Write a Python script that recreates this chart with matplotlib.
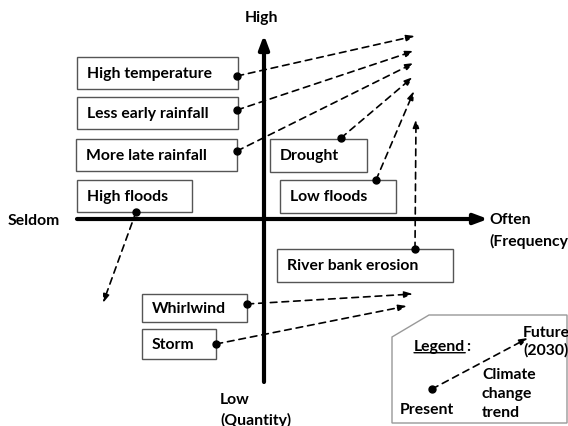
import matplotlib.pyplot as plt
from matplotlib.patches import Rectangle, Polygon

plt.rcParams['font.family'] = ['Lato', 'DejaVu Sans']

# factors shown as boxes
labels = ["High temperature", "Less early rainfall", "More late rainfall", "High floods",
          "Drought", "Low floods", "River bank erosion", "Whirlwind", "Storm"]
# box extents (x0, y0, x1, y1) in picture pixels, y down
boxes = [(77, 58, 238, 90), (77, 98, 238, 130), (76, 140, 237, 172), (77, 181, 192, 213),
         (270, 140, 367, 173), (280, 181, 396, 214), (277, 250, 453, 283),
         (142, 295, 247, 323), (142, 330, 216, 360)]
# present -> future trend
start_x = [237, 237, 237, 136, 341, 376, 415, 247, 216]
start_y = [77, 111, 152, 213, 139, 181, 250, 305, 345]
end_x = [415, 414, 414, 103, 413, 414, 416, 413, 407]
end_y = [37, 52, 64, 304, 78, 92, 120, 295, 307]

fig = plt.figure(figsize=(5.68, 4.27), dpi=100)
ax = fig.add_axes([0, 0, 1, 1])
ax.set_xlim(0, 568)
ax.set_ylim(427, 0)
ax.axis('off')

fs = 11.3
arrow_style = "-|>,head_length=0.5,head_width=0.18"

# axes of the diagram
ax.annotate("", xy=(264, 36), xytext=(264, 383),
            arrowprops=dict(arrowstyle="-|>,head_length=0.8,head_width=0.3", lw=3, color="black",
                            shrinkA=0, shrinkB=0))
ax.annotate("", xy=(488, 220), xytext=(77, 220),
            arrowprops=dict(arrowstyle="-|>,head_length=0.8,head_width=0.3", lw=3, color="black",
                            shrinkA=0, shrinkB=0))
ax.text(262, 18, "High", fontsize=fs, ha="center", va="center", fontweight="bold")
ax.text(8, 221, "Seldom", fontsize=fs, ha="left", va="center", fontweight="bold")
ax.text(489, 220, "Often", fontsize=fs, ha="left", va="center", fontweight="bold")
ax.text(489, 241, "(Frequency)", fontsize=fs, ha="left", va="center", fontweight="bold")
ax.text(220, 400, "Low", fontsize=fs, ha="left", va="center", fontweight="bold")
ax.text(220, 420, "(Quantity)", fontsize=fs, ha="left", va="center", fontweight="bold")

for lab, (x0, y0, x1, y1) in zip(labels, boxes):
    ax.add_patch(Rectangle((x0, y0), x1 - x0, y1 - y0, fill=False, ec="#555555", lw=1))
    ax.text(x0 + 10, (y0 + y1) / 2, lab, fontsize=fs, ha="left", va="center", fontweight="bold")

for sx, sy, ex, ey in zip(start_x, start_y, end_x, end_y):
    ax.annotate("", xy=(ex, ey), xytext=(sx, sy),
                arrowprops=dict(arrowstyle=arrow_style, lw=1.2,
                                ls=(0, (4, 3)), color="black", shrinkA=0, shrinkB=0))
    ax.plot(sx, sy, "o", color="black", ms=5)

# legend panel
ax.add_patch(Polygon([(429, 316), (567, 316), (567, 424), (392, 424), (392, 338)],
                     closed=True, fill=False, ec="#999999", lw=1))
leg = ax.text(414, 347, "Legend", fontsize=fs, ha="left", va="center", fontweight="bold")
ax.annotate(":", xy=(1, 0.5), xycoords=leg, xytext=(1, 0), textcoords="offset points",
            fontsize=fs, ha="left", va="center", fontweight="bold")
ax.annotate("", xy=(1, 0.02), xycoords=leg, xytext=(0, 0.02), textcoords=leg,
            arrowprops=dict(arrowstyle="-", lw=1, color="black", shrinkA=0, shrinkB=0))
ax.annotate("", xy=(528, 339), xytext=(432, 390),
            arrowprops=dict(arrowstyle=arrow_style, lw=1.2,
                            ls=(0, (4, 3)), color="black", shrinkA=0, shrinkB=0))
ax.plot(432, 390, "o", color="black", ms=5)
ax.text(523, 333, "Future", fontsize=fs, ha="left", va="center", fontweight="bold")
ax.text(523, 350, "(2030)", fontsize=fs, ha="left", va="center", fontweight="bold")
ax.text(400, 410, "Present", fontsize=fs, ha="left", va="center", fontweight="bold")
ax.text(482, 375, "Climate", fontsize=fs, ha="left", va="center", fontweight="bold")
ax.text(482, 394, "change", fontsize=fs, ha="left", va="center", fontweight="bold")
ax.text(482, 413, "trend", fontsize=fs, ha="left", va="center", fontweight="bold")

fig.savefig("out.png", dpi=100)
